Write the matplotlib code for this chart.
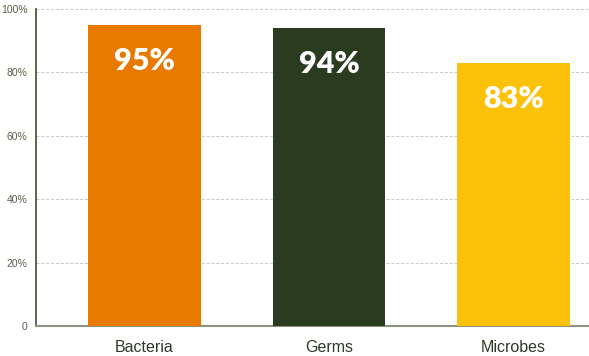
import matplotlib
matplotlib.use("Agg")
import matplotlib.pyplot as plt

categories = ["Bacteria", "Germs", "Microbes"]
values = [95, 94, 83]
colors = ["#E87A00", "#2A3B1F", "#FCC20A"]
ytick_values = [0, 20, 40, 60, 80, 100]
ytick_labels = ["0", "20%", "40%", "60%", "80%", "100%"]

W, H = 589, 356
fig = plt.figure(figsize=(W / 100, H / 100), dpi=100)
ax = fig.add_axes([36 / W, 1 - 326 / H, (589 - 36) / W, (326 - 9) / H])

x = list(range(len(categories)))
bars = ax.bar(x, values, width=0.61, color=colors, zorder=3)

for xi, v in zip(x, values):
    ax.text(xi, v - 11.5, f"{v}%", ha="center", va="center", color="white",
            fontsize=22, fontweight="heavy", family="Lato", zorder=4)

ax.set_xlim(-0.588, 2.41)
ax.set_ylim(0, 100)
ax.set_yticks(ytick_values)
ax.set_yticklabels(ytick_labels, family="Liberation Sans")
ax.set_xticks(x)
ax.set_xticklabels(categories, family="Liberation Sans")

ax.grid(axis="y", color="#c8c8c8", linestyle=(0, (3, 2)), linewidth=0.7, zorder=0)
ax.tick_params(axis="y", length=0, pad=6, labelsize=7.5, labelcolor="#55604c")
ax.tick_params(axis="x", length=0, pad=10, labelsize=11.5, labelcolor="#2f3a28")

for s in ("top", "right"):
    ax.spines[s].set_visible(False)
ax.spines["left"].set_color("#3d4a33")
ax.spines["left"].set_linewidth(1.2)
ax.spines["bottom"].set_color("#8a9480")
ax.spines["bottom"].set_linewidth(1.5)

fig.savefig("out.png", dpi=100)
